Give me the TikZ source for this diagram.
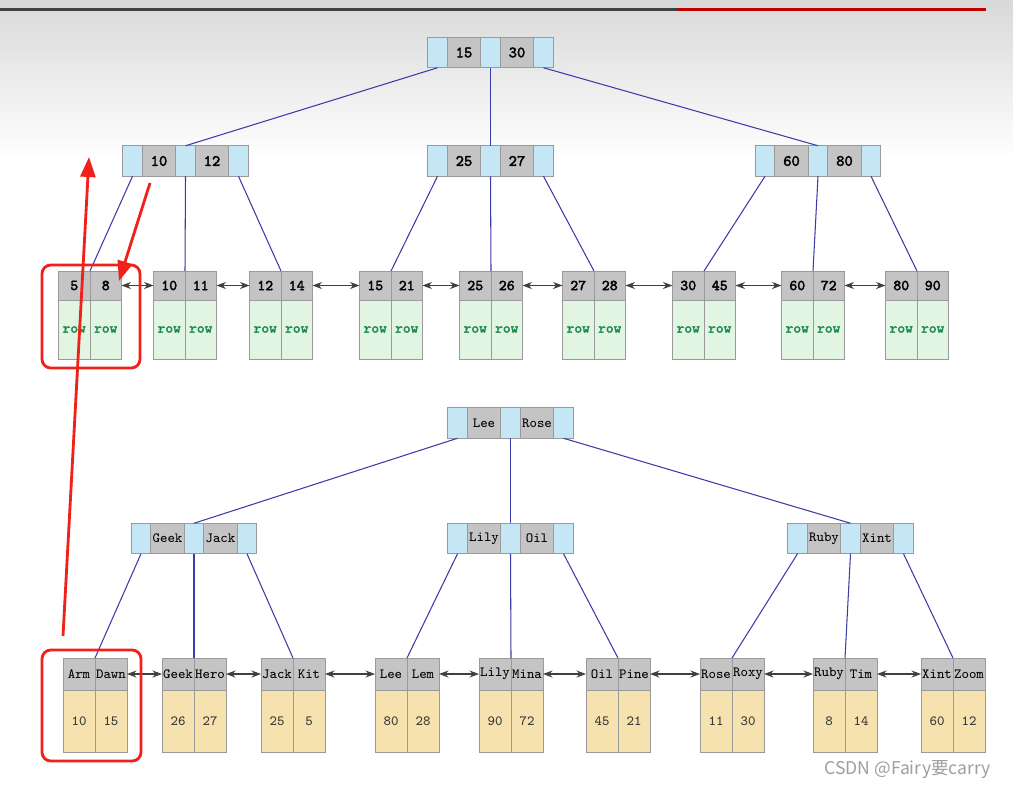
\documentclass[tikz,border=0pt]{standalone}
\usepackage{fontspec}
\newfontfamily\slabmono[AutoFakeBold=2.2]{Latin Modern Mono}
\newfontfamily\cjkfont{Noto Sans CJK SC}
\usepackage{xcolor}
\usepackage{tikz}
\usetikzlibrary{arrows.meta,positioning}

\definecolor{ptrblue}{HTML}{C5E6F4}
\definecolor{keygray}{HTML}{C4C4C4}
\definecolor{cellline}{HTML}{9A9A9A}
\definecolor{rowgreen}{HTML}{E2F5E2}
\definecolor{rowtext}{HTML}{1E8C50}
\definecolor{datatan}{HTML}{F6E2AE}
\definecolor{linkblue}{HTML}{3C3CA8}
\definecolor{markred}{HTML}{F0201A}

% inner node: pointer | key | pointer | key | pointer
\newcommand{\keynode}[6]{%
  \node[ptrcell] (#1-m) at (#2,#3) {};
  \node[keycell, #6, left=0pt of #1-m] (#1-a) {#4};
  \node[ptrcell, left=0pt of #1-a] (#1-l) {};
  \node[keycell, #6, right=0pt of #1-m] (#1-b) {#5};
  \node[ptrcell, right=0pt of #1-b] (#1-r) {};
}
% leaf: two keys on top, their data below
\newcommand{\leafnode}[8]{%
  \node[#8head, anchor=north east] (#1-a) at (#2,#3) {#4};
  \node[#8head, anchor=north west] (#1-b) at (#2,#3) {#5};
  \node[#8body, below=0pt of #1-a] (#1-c) {#6};
  \node[#8body, below=0pt of #1-b] (#1-d) {#7};
}

\begin{document}
\begin{tikzpicture}[
  x=0.02cm, y=-0.02cm,
  cell/.style={
    draw=cellline,
    line width=0.4pt,
    outer sep=0pt,
    inner sep=0pt
  },
  ptrcell/.style={cell, fill=ptrblue, minimum width=0.39cm, minimum height=0.61cm},
  keycell/.style={cell, fill=keygray, minimum width=0.67cm, minimum height=0.61cm},
  numkey/.style={font=\slabmono\bfseries\fontsize{9}{10}\selectfont},
  namekey/.style={font=\slabmono\fontsize{8}{9}\selectfont},
  rowhead/.style={cell, fill=keygray, minimum width=0.63cm, minimum height=0.58cm,
    font=\slabmono\bfseries\fontsize{8.6}{9}\selectfont},
  rowbody/.style={cell, fill=rowgreen, minimum width=0.63cm, minimum height=1.18cm,
    text=rowtext, font=\slabmono\bfseries\fontsize{8.3}{9}\selectfont},
  datahead/.style={cell, fill=keygray, minimum width=0.64cm, minimum height=0.64cm,
    font=\slabmono\fontsize{8}{9}\selectfont},
  databody/.style={cell, fill=datatan, minimum width=0.64cm, minimum height=1.24cm,
    text=black!80, font=\slabmono\fontsize{8}{9}\selectfont},
  link/.style={draw=linkblue, line width=0.6pt},
  leaflink/.style={{Stealth[length=1.9mm,width=1.4mm]}-{Stealth[length=1.9mm,width=1.4mm]},
    draw=black!75, line width=0.6pt},
  redbox/.style={draw=markred, line width=1.6pt, rounded corners=5pt},
  redarrow/.style={-{Triangle[length=4mm,width=3mm]}, draw=markred, line width=1.6pt},
  watermark/.style={font=\cjkfont\fontsize{10}{12}\selectfont, text=gray!75, anchor=east}
]
\useasboundingbox (0,0) rectangle (1013,788);
\fill[white] (0,0) rectangle (1013,788);
\shade[top color=black!15, bottom color=white] (0,0) rectangle (1013,160);
\fill[black!75] (0,8) rectangle (677,11);
\fill[red!75!black] (677,8) rectangle (986,11);

% clustered index on id
\keynode{tr}{490.5}{52.5}{15}{30}{numkey}
\keynode{ta}{185.5}{161}{10}{12}{numkey}
\keynode{tb}{490.5}{161}{25}{27}{numkey}
\keynode{tc}{818}{161}{60}{80}{numkey}

\leafnode{t1}{90}{271}{5}{8}{row}{row}{row}
\leafnode{t2}{185}{271}{10}{11}{row}{row}{row}
\leafnode{t3}{281}{271}{12}{14}{row}{row}{row}
\leafnode{t4}{391}{271}{15}{21}{row}{row}{row}
\leafnode{t5}{491}{271}{25}{26}{row}{row}{row}
\leafnode{t6}{594}{271}{27}{28}{row}{row}{row}
\leafnode{t7}{704}{271}{30}{45}{row}{row}{row}
\leafnode{t8}{813}{271}{60}{72}{row}{row}{row}
\leafnode{t9}{917}{271}{80}{90}{row}{row}{row}

% secondary index on name
\keynode{br}{510.5}{423}{Lee}{Rose}{namekey}
\keynode{ba}{194}{538.5}{Geek}{Jack}{namekey}
\keynode{bb}{510.5}{538.5}{Lily}{Oil}{namekey}
\keynode{bc}{850.5}{538.5}{Ruby}{Xint}{namekey}

\leafnode{b1}{95}{658}{Arm}{Dawn}{10}{15}{data}
\leafnode{b2}{194}{658}{Geek}{Hero}{26}{27}{data}
\leafnode{b3}{293}{658}{Jack}{Kit}{25}{5}{data}
\leafnode{b4}{407}{658}{Lee}{Lem}{80}{28}{data}
\leafnode{b5}{511}{658}{Lily}{Mina}{90}{72}{data}
\leafnode{b6}{618}{658}{Oil}{Pine}{45}{21}{data}
\leafnode{b7}{732}{658}{Rose}{Roxy}{11}{30}{data}
\leafnode{b8}{845}{658}{Ruby}{Tim}{8}{14}{data}
\leafnode{b9}{953}{658}{Xint}{Zoom}{60}{12}{data}

\foreach \p/\c in {l/ta, m/tb, r/tc} \draw[link] (tr-\p.south) -- (\c-m.north);
\foreach \p/\c in {l/t1, m/t2, r/t3} \draw[link] (ta-\p.south) -- (\c-a.north east);
\foreach \p/\c in {l/t4, m/t5, r/t6} \draw[link] (tb-\p.south) -- (\c-a.north east);
\foreach \p/\c in {l/t7, m/t8, r/t9} \draw[link] (tc-\p.south) -- (\c-a.north east);

\foreach \p/\c in {l/ba, m/bb, r/bc} \draw[link] (br-\p.south) -- (\c-m.north);
\foreach \p/\c in {l/b1, m/b2, r/b3} \draw[link] (ba-\p.south) -- (\c-a.north east);
\foreach \p/\c in {l/b4, m/b5, r/b6} \draw[link] (bb-\p.south) -- (\c-a.north east);
\foreach \p/\c in {l/b7, m/b8, r/b9} \draw[link] (bc-\p.south) -- (\c-a.north east);

\foreach \i [count=\j from 2] in {1,...,8} {
  \draw[leaflink] (t\i-b.east) -- (t\j-a.west);
  \draw[leaflink] (b\i-b.east) -- (b\j-a.west);
}

% red marks
\draw[redbox] (42,265) rectangle (140,368);
\draw[redbox] (42,650) rectangle (141,761);
\coordinate (up-from) at (63,636);
\coordinate (up-to) at (89,157);
\coordinate (down-from) at (150,183);
\coordinate (down-to) at (119,281);
\draw[redarrow] (up-from) -- (up-to);
\draw[redarrow] (down-from) -- (down-to);

\node[watermark] (wm) at (997,770) {CSDN @Fairy要carry};
\end{tikzpicture}
\end{document}
